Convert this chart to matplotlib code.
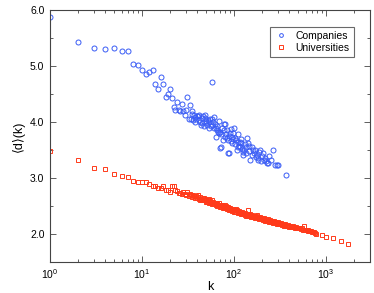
import matplotlib
matplotlib.use("Agg")
import matplotlib.pyplot as plt
from matplotlib.ticker import MultipleLocator, LogLocator, NullFormatter

plt.rcParams['font.family'] = ['Liberation Sans', 'DejaVu Sans']
plt.rcParams['mathtext.fontset'] = 'custom'
plt.rcParams['mathtext.rm'] = 'Liberation Sans'
plt.rcParams['mathtext.it'] = 'Liberation Sans:italic'

comp_k = [1, 2, 3, 4, 5, 6, 7, 8, 9, 10, 11, 12, 13, 14, 15, 16, 17, 18, 19, 20,
          21, 22, 23, 24, 25, 26, 27, 28, 29, 30, 31, 32, 33, 34, 35, 36, 37, 38, 39, 40,
          41, 42, 43, 44, 45, 46, 47, 48, 49, 50, 52, 53, 55, 56, 57, 58, 59, 60, 62, 63,
          64, 65, 67, 68, 70, 71, 72, 74, 76, 78, 80, 82, 84, 86, 87, 89, 90, 92, 94, 96,
          98, 100, 102, 105, 107, 109, 111, 113, 116, 118, 120, 123, 125, 126, 130, 134, 137, 140, 144, 150,
          155, 158, 162, 168, 172, 176, 180, 183, 188, 191, 200, 208, 217, 225, 230, 235, 240, 250, 266, 282,
          295, 302, 365,
          35, 38, 42, 45, 48, 51, 54, 58, 61, 66, 69, 73, 77, 79, 83, 88, 93, 97, 103, 110,
          115, 128, 135, 146, 165, 195, 210]
comp_d = [5.87, 5.42, 5.32, 5.30, 5.33, 5.26, 5.26, 5.04, 5.01, 4.92, 4.86, 4.90, 4.93, 4.67, 4.59, 4.80, 4.67, 4.44, 4.50, 4.59,
          4.43, 4.27, 4.21, 4.35, 4.21, 4.20, 4.33, 4.20, 4.12, 4.22, 4.44, 4.05, 4.30, 4.05, 4.20, 4.04, 4.13, 4.09, 4.05, 4.10,
          4.11, 4.04, 4.00, 3.95, 4.07, 4.10, 3.92, 4.08, 4.02, 3.98, 4.04, 3.89, 4.06, 3.93, 4.05, 4.71, 4.00, 4.09, 3.97, 3.74,
          3.89, 3.93, 3.83, 4.02, 3.83, 3.53, 3.55, 3.90, 3.68, 3.96, 3.97, 3.78, 3.86, 3.68, 3.44, 3.44, 3.80, 3.87, 3.74, 3.62,
          3.80, 3.89, 3.72, 3.68, 3.50, 3.78, 3.65, 3.58, 3.56, 3.70, 3.62, 3.52, 3.41, 3.47, 3.60, 3.55, 3.71, 3.62, 3.48, 3.33,
          3.56, 3.41, 3.50, 3.50, 3.38, 3.41, 3.35, 3.32, 3.46, 3.50, 3.40, 3.44, 3.35, 3.30, 3.26, 3.26, 3.40, 3.33, 3.50, 3.23,
          3.23, 3.23, 3.05,
          4.15, 4.00, 4.12, 3.98, 4.13, 3.95, 4.00, 3.95, 3.90, 3.85, 3.80, 3.79, 3.85, 3.73, 3.71, 3.75, 3.66, 3.70, 3.60, 3.55,
          3.65, 3.50, 3.45, 3.58, 3.45, 3.30, 3.33]

univ_k = [1, 2, 3, 4, 5, 6, 7, 8, 9, 10, 11, 12, 13, 14, 15, 16, 17, 18, 19, 20,
          21, 22, 23, 24, 25, 26, 27, 28, 29, 30, 31, 32, 33, 34, 35, 36, 37, 38, 39, 40,
          41, 42, 43, 44, 45, 46, 47, 48, 49, 50, 52, 53, 54, 55, 56, 57, 58, 59, 60, 62,
          63, 64, 65, 66, 68, 69, 70, 71, 72, 74, 75, 76, 78, 80, 81, 83, 84, 86, 88, 89,
          90, 92, 94, 96, 98, 100, 102, 104, 106, 108, 110, 112, 115, 117, 120, 122, 125, 128, 130, 133,
          136, 140, 143, 146, 150, 153, 157, 160, 164, 168, 172, 176, 180, 184, 188, 192, 196, 200, 205, 210,
          215, 220, 226, 232, 238, 244, 250, 257, 264, 271, 278, 285, 293, 300, 310, 320, 330, 340, 350, 360,
          372, 385, 398, 410, 425, 440, 455, 470, 490, 510, 530, 550, 570, 590, 615, 640, 670, 700, 740, 780,
          896, 993, 1190, 1450, 1740,
          41, 43, 47, 51, 54, 58, 61, 65, 67, 73, 77, 79, 82, 85, 87, 91, 95, 99, 103, 107,
          111, 114, 118, 123, 127, 132, 138, 142, 148, 155, 162, 170, 178, 186, 194, 202, 212, 222, 235, 248,
          260, 275, 290, 305, 315, 335, 355, 378, 392, 418, 448, 480, 520, 560, 600, 630, 660, 690, 720, 760]
univ_d = [3.49, 3.32, 3.17, 3.16, 3.08, 3.04, 3.01, 2.95, 2.93, 2.93, 2.93, 2.90, 2.86, 2.85, 2.83, 2.83, 2.85, 2.79, 2.79, 2.75,
          2.85, 2.85, 2.79, 2.77, 2.73, 2.74, 2.72, 2.75, 2.71, 2.70, 2.75, 2.68, 2.72, 2.69, 2.66, 2.70, 2.67, 2.65, 2.68, 2.64,
          2.70, 2.62, 2.66, 2.63, 2.61, 2.65, 2.60, 2.63, 2.58, 2.61, 2.58, 2.62, 2.56, 2.59, 2.55, 2.60, 2.54, 2.57, 2.53, 2.56,
          2.52, 2.55, 2.50, 2.54, 2.51, 2.55, 2.49, 2.52, 2.48, 2.51, 2.47, 2.50, 2.48, 2.46, 2.50, 2.45, 2.48, 2.44, 2.47, 2.43,
          2.46, 2.42, 2.45, 2.41, 2.44, 2.43, 2.40, 2.44, 2.39, 2.42, 2.38, 2.41, 2.37, 2.40, 2.36, 2.39, 2.35, 2.38, 2.34, 2.37,
          2.33, 2.36, 2.43, 2.32, 2.35, 2.31, 2.34, 2.30, 2.33, 2.29, 2.32, 2.34, 2.28, 2.31, 2.27, 2.30, 2.26, 2.29, 2.25, 2.28,
          2.24, 2.27, 2.23, 2.26, 2.22, 2.25, 2.21, 2.24, 2.20, 2.23, 2.19, 2.22, 2.18, 2.21, 2.17, 2.19, 2.16, 2.18, 2.15, 2.17,
          2.14, 2.16, 2.13, 2.15, 2.12, 2.14, 2.11, 2.12, 2.10, 2.11, 2.09, 2.10, 2.14, 2.07, 2.08, 2.06, 2.05, 2.04, 2.03, 2.00,
          1.98, 1.95, 1.92, 1.88, 1.83,
          2.66, 2.61, 2.64, 2.57, 2.60, 2.57, 2.54, 2.54, 2.52, 2.50, 2.47, 2.51, 2.47, 2.46, 2.49, 2.44, 2.43, 2.40, 2.42, 2.41,
          2.40, 2.39, 2.38, 2.37, 2.36, 2.35, 2.34, 2.33, 2.34, 2.32, 2.31, 2.30, 2.30, 2.29, 2.28, 2.27, 2.26, 2.25, 2.24, 2.23,
          2.22, 2.21, 2.20, 2.19, 2.18, 2.17, 2.16, 2.15, 2.14, 2.13, 2.12, 2.11, 2.10, 2.08, 2.07, 2.08, 2.06, 2.06, 2.04, 2.02]

series_labels = ["Companies", "Universities"]

fig = plt.figure(figsize=(3.74, 2.93), dpi=100)
ax = fig.add_axes([50/374, 1-262/293, 320/374, 252/293])

ax.plot(comp_k, comp_d, linestyle='none', marker='o', markersize=3.6,
        markerfacecolor='none', markeredgecolor='#3a5cf5', markeredgewidth=0.7,
        label=series_labels[0])
ax.plot(univ_k, univ_d, linestyle='none', marker='s', markersize=3.0,
        markerfacecolor='none', markeredgecolor='#ff3a1a', markeredgewidth=0.7,
        label=series_labels[1])

ax.set_xscale('log')
ax.set_xlim(1, 3000)
ax.set_ylim(1.5, 6.0)
ax.yaxis.set_major_locator(MultipleLocator(1.0))
ax.yaxis.set_minor_locator(MultipleLocator(0.5))
ax.yaxis.set_major_formatter(plt.FuncFormatter(lambda v, p: f"{v:.1f}"))
ax.xaxis.set_major_locator(LogLocator(base=10, numticks=10))
ax.xaxis.set_minor_locator(LogLocator(base=10, subs=range(2, 10), numticks=20))
ax.xaxis.set_minor_formatter(NullFormatter())

ax.tick_params(which='both', direction='in', top=True, right=True,
               labelsize=7.5, colors='#444444', labelcolor='black', width=0.6)
ax.tick_params(which='major', length=4, pad=4)
ax.tick_params(which='minor', length=2)
for s in ax.spines.values():
    s.set_color('#444444')
    s.set_linewidth(0.8)

ax.set_xlabel('k', fontsize=9)
ax.xaxis.set_label_coords(0.5, -0.075, transform=ax.transAxes)
ax.xaxis.label.set_va('top')
ax.set_ylabel('⟨d⟩(k)', fontsize=9, labelpad=4)

leg = ax.legend(loc='upper right', fontsize=7.5, frameon=True, fancybox=False,
                edgecolor='#444444', handlelength=1.2, handletextpad=0.8,
                borderpad=0.4, labelspacing=0.2, markerscale=0.75,
                bbox_to_anchor=(0.965, 0.955))
leg.get_frame().set_linewidth(0.8)

fig.savefig('out.png', dpi=100)
